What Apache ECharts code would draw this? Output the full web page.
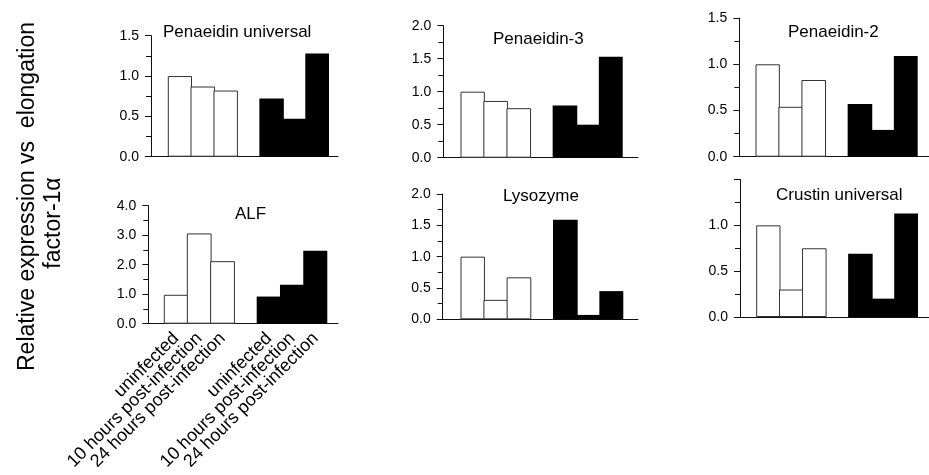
<!DOCTYPE html>
<html>
<head>
<meta charset="utf-8">
<script src="https://cdn.jsdelivr.net/npm/echarts@6/dist/echarts.min.js"></script>
<style>html,body{margin:0;padding:0;background:#fff}#c{width:929px;height:475px}</style>
</head>
<body>
<div id="c"></div>
<script>
// ---- data ----
const categories = ['uninfected', '10 hours post-infection', '24 hours post-infection', '', 'uninfected', '10 hours post-infection', '24 hours post-infection'];
const panelTitles = ['Penaeidin universal', 'Penaeidin-3', 'Penaeidin-2', 'ALF', 'Lysozyme', 'Crustin universal'];
// white bars (first group) and black bars (second group)
const penUniversalWhite = [1.00, 0.87, 0.82];
const penUniversalBlack = [0.72, 0.47, 1.28];
const pen3White = [1.00, 0.86, 0.75];
const pen3Black = [0.79, 0.50, 1.53];
const pen2White = [1.00, 0.54, 0.83];
const pen2Black = [0.57, 0.29, 1.09];
const alfWhite = [0.98, 3.06, 2.12];
const alfBlack = [0.92, 1.32, 2.47];
const lysozymeWhite = [1.00, 0.31, 0.67];
const lysozymeBlack = [1.59, 0.07, 0.45];
const crustinWhite = [1.00, 0.30, 0.75];
const crustinBlack = [0.69, 0.20, 1.13];
const yMax = [1.5, 2.0, 1.5, 4.0, 2.0, 1.5];
const yInterval = [0.5, 0.5, 0.5, 1.0, 0.5, 0.5];
const yAxisTitleLines = ['Relative expression vs  elongation', 'factor-1\u03b1'];

const whiteSets = [penUniversalWhite, pen3White, pen2White, alfWhite, lysozymeWhite, crustinWhite];
const blackSets = [penUniversalBlack, pen3Black, pen2Black, alfBlack, lysozymeBlack, crustinBlack];

// ---- layout (pixels) ----
const layout = [
  {yx: 151,   end: 338, top: 35.7,  bottom: 156.7, b0: 168.3, b1: 329.0, tx: 163, ty: 24},
  {yx: 443.3, end: 638, top: 25.7,  bottom: 157.7, b0: 461.0, b1: 622.7, tx: 493, ty: 30.5},
  {yx: 739.3, end: 929, top: 18.1,  bottom: 156.7, b0: 756.0, b1: 917.7, tx: 788, ty: 23.5},
  {yx: 148.3, end: 338, top: 205.7, bottom: 323.7, b0: 164.3, b1: 327.3, tx: 235, ty: 205.5},
  {yx: 442.7, end: 638, top: 194.0, bottom: 319.3, b0: 461.0, b1: 623.3, tx: 503, ty: 187.5},
  {yx: 740,   end: 929, top: 179.5, bottom: 317.0, b0: 756.7, b1: 918.0, tx: 776, ty: 186.5}
];

const FONT = '"Liberation Sans", Arial, Helvetica, sans-serif';
const AX = '#111';
const WHITE_STYLE = {color: '#fff', borderColor: '#333', borderWidth: 1};
const BLACK_STYLE = {color: '#000', borderColor: '#000', borderWidth: 0};

const grid = [], xAxis = [], yAxis = [], series = [], title = [];
layout.forEach((L, i) => {
  const h = L.bottom - L.top;
  const band = (L.b1 - L.b0) / categories.length;
  grid.push({left: L.yx, top: L.top, width: L.end - L.yx, height: h, containLabel: false});
  grid.push({left: L.b0, top: L.top, width: L.b1 - L.b0, height: h, containLabel: false});
  xAxis.push({
    type: 'value', gridIndex: 2 * i, min: 0, max: 1,
    axisLine: {show: true, onZero: false, lineStyle: {color: AX, width: 1}},
    axisTick: {show: false}, axisLabel: {show: false}, splitLine: {show: false}
  });
  yAxis.push({
    type: 'value', gridIndex: 2 * i, min: 0, max: yMax[i], interval: yInterval[i],
    axisLine: {show: true, lineStyle: {color: AX, width: 1}},
    axisTick: {show: true, inside: false, length: 6, lineStyle: {color: AX}},
    minorTick: {show: true, splitNumber: 2, length: 5, lineStyle: {color: AX}},
    splitLine: {show: false}, minorSplitLine: {show: false},
    axisLabel: {
      show: true, margin: 12, fontSize: 14, color: '#000', fontFamily: FONT,
      showMaxLabel: i !== 5,
      formatter: v => v.toFixed(1)
    }
  });
  xAxis.push({
    type: 'category', gridIndex: 2 * i + 1, data: categories, boundaryGap: true,
    axisLine: {show: false}, axisTick: {show: false}, splitLine: {show: false},
    axisLabel: i === 3 ? {
      show: true, interval: 0, rotate: 45, fontSize: 18, margin: 12, color: '#000', fontFamily: FONT,
      formatter: (v, idx) => categories[idx]
    } : {show: false}
  });
  yAxis.push({type: 'value', gridIndex: 2 * i + 1, min: 0, max: yMax[i], show: false, splitLine: {show: false}});
  const data = whiteSets[i].map(v => ({value: v, itemStyle: WHITE_STYLE}))
    .concat([{value: '-'}])
    .concat(blackSets[i].map(v => ({value: v, itemStyle: BLACK_STYLE})));
  series.push({
    type: 'bar', xAxisIndex: 2 * i + 1, yAxisIndex: 2 * i + 1,
    barWidth: band + 1.5, barMaxWidth: 1000, barCategoryGap: '0%',
    data: data, itemStyle: WHITE_STYLE, silent: true
  });
  title.push({
    text: panelTitles[i], left: L.tx, top: L.ty, padding: 0,
    textStyle: {fontSize: 17, fontWeight: 'normal', color: '#000', fontFamily: FONT}
  });
});

const chart = echarts.init(document.getElementById('c'), null, {renderer: 'canvas'});
chart.setOption({
  backgroundColor: '#fff',
  animation: false,
  title, grid, xAxis, yAxis, series,
  graphic: [
    {type: 'text', x: 27.5, y: 196.5, rotation: Math.PI / 2,
     style: {text: yAxisTitleLines[0], fontSize: 23, fontFamily: FONT, fill: '#000', align: 'center', verticalAlign: 'middle'}},
    {type: 'text', x: 54, y: 223, rotation: Math.PI / 2,
     style: {text: yAxisTitleLines[1], fontSize: 23, fontFamily: FONT, fill: '#000', align: 'center', verticalAlign: 'middle'}}
  ]
});
</script>
</body>
</html>
